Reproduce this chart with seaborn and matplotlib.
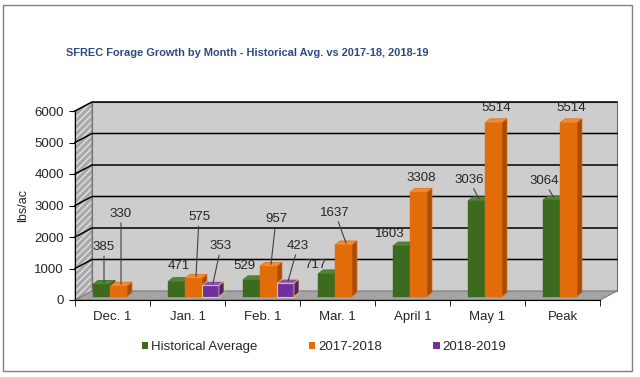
import numpy as np
import pandas as pd
import matplotlib.pyplot as plt
import matplotlib.transforms as mtransforms
from matplotlib.patches import Polygon, Rectangle, Patch
from matplotlib.lines import Line2D
import seaborn as sns

# chart data
months = ['Dec. 1', 'Jan. 1', 'Feb. 1', 'Mar. 1', 'April 1', 'May 1', 'Peak']
series = ['Historical Average', '2017-2018', '2018-2019']
hist_avg = [385, 471, 529, 717, 1603, 3036, 3064]
y2017_18 = [330, 575, 957, 1637, 3308, 5514, 5514]
y2018_19 = [None, 353, 423, None, None, None, None]
y_ticks = [0, 1000, 2000, 3000, 4000, 5000, 6000]

# label offsets (pixels from bar top) and whether a leader line is drawn
label_off = {
    'Historical Average': [(0, 35, 1), (0, 14, 0), (-10, 12, 0), (-14, 7, 0),
                           (-14, 10, 0), (-10, 19, 1), (-10, 17, 1)],
    '2017-2018': [(0, 70, 1), (3, 59, 1), (5, 45, 1), (-11, 30, 1),
                  (0, 12, 0), (0, 13, 0), (0, 13, 0)],
    '2018-2019': [None, (8, 37, 1), (10, 35, 1), None, None, None, None],
}

# colours: front, top, side, edge
cols = {
    'Historical Average': ('#3C6A1F', '#52853A', '#284914', '#3C6A1F'),
    '2017-2018': ('#E36C0A', '#F28A3A', '#A64C06', '#E36C0A'),
    '2018-2019': ('#7030A0', '#8A50B8', '#4E1F72', '#F0D050'),
}

rows = []
for s, vals in zip(series, [hist_avg, y2017_18, y2018_19]):
    for m, v in zip(months, vals):
        if v is not None:
            rows.append({'month': m, 'lbs': v, 'series': s})
df = pd.DataFrame(rows)

plt.rcParams['font.family'] = ['Liberation Sans', 'DejaVu Sans']
plt.rcParams['hatch.linewidth'] = 1.0
W, H = 640, 377
fig = plt.figure(figsize=(W / 100, H / 100), dpi=100)
ax = fig.add_axes([75 / W, 77 / H, 525 / W, 189 / H])

sns.barplot(data=df, x='month', y='lbs', hue='series', order=months,
            hue_order=series, palette=[cols[s][0] for s in series],
            width=0.68, gap=0, saturation=1, legend=False, ax=ax)
ax.set_xlim(-0.5, 6.5)
ax.set_ylim(0, 6000)
ax.patch.set_visible(False)

# 3d geometry in pixels
wdx, wdy = 17, 9      # wall depth
sdx, sdy = 6, 3.5     # bar shift from front plane
bdx, bdy = 5, 4       # bar depth
ident = mtransforms.IdentityTransform()
td = ax.transData

x_l, y_b = td.transform((-0.5, 0))
x_r, y_t = td.transform((6.5, 6000))

# back wall, left wall, floor
ax.add_patch(Polygon([(x_l + wdx, y_b + wdy), (x_r + wdx, y_b + wdy),
                      (x_r + wdx, y_t + wdy), (x_l + wdx, y_t + wdy)],
                     closed=True, transform=ident, facecolor='#CDCDCD',
                     edgecolor='#6A6A6A', lw=0.8, zorder=0.1, clip_on=False))
left_wall = [(x_l, y_b), (x_l + wdx, y_b + wdy), (x_l + wdx, y_t + wdy), (x_l, y_t)]
ax.add_patch(Polygon(left_wall, closed=True, transform=ident,
                     facecolor='#A9A9A9', edgecolor='#E2E2E2', hatch='/////',
                     lw=0, zorder=0.15, clip_on=False))
ax.add_patch(Polygon(left_wall, closed=True, transform=ident, fill=False,
                     edgecolor='#7A7A7A', lw=0.6, zorder=0.16, clip_on=False))
ax.add_patch(Polygon([(x_l, y_b), (x_r, y_b), (x_r + wdx, y_b + wdy),
                      (x_l + wdx, y_b + wdy)], closed=True, transform=ident,
                     facecolor='#A4A4A4', edgecolor='#7A7A7A', lw=0.8,
                     zorder=0.2, clip_on=False))

# gridlines on left and back walls
for t in y_ticks[1:]:
    _, yy = td.transform((-0.5, t))
    ax.add_line(Line2D([x_l, x_l + wdx, x_r + wdx], [yy, yy + wdy, yy + wdy],
                       transform=ident, color='black', lw=1.1, zorder=0.3,
                       clip_on=False))

# bars with top and side faces
shift = mtransforms.offset_copy(td, fig=fig, x=sdx, y=sdy, units='dots')
bars = []
for s, cont in zip(series, ax.containers):
    for bar in cont:
        if np.isnan(bar.get_height()):
            continue
        bars.append((bar.get_x(), s, bar))
bars.sort(key=lambda b: b[0])

for k, (_, s, bar) in enumerate(bars):
    front, top, side, edge = cols[s]
    z = 2 + 0.01 * k
    bar.set_transform(shift)
    bar.set_zorder(z)
    bar.set_edgecolor(edge)
    bar.set_linewidth(0.8 if edge != front else 0.3)
    x0, y0 = shift.transform((bar.get_x(), 0))
    x1, y1 = shift.transform((bar.get_x() + bar.get_width(), bar.get_height()))
    ax.add_patch(Polygon([(x0, y1), (x1, y1), (x1 + bdx, y1 + bdy), (x0 + bdx, y1 + bdy)],
                         closed=True, transform=ident, facecolor=top,
                         edgecolor=edge, lw=0.5, zorder=z, clip_on=False))
    ax.add_patch(Polygon([(x1, y0), (x1, y1), (x1 + bdx, y1 + bdy), (x1 + bdx, y0 + bdy)],
                         closed=True, transform=ident, facecolor=side,
                         edgecolor=edge, lw=0.5, zorder=z, clip_on=False))

    # data label
    ci = int(round(bar.get_x() + bar.get_width() / 2))
    ox, oy, line = label_off[s][ci]
    xc = (x0 + x1) / 2
    ap = dict(arrowstyle='-', color='#404040', lw=0.8, shrinkA=0, shrinkB=0) if line else None
    ax.annotate(f'{bar.get_height():.0f}', xy=(xc + bdx / 2, y1 + bdy / 2),
                xycoords='figure pixels', xytext=(ox, oy), textcoords='offset pixels',
                ha='center', va='center', fontsize=9.5, color='#262626',
                arrowprops=ap, zorder=5, annotation_clip=False)

# axes styling
for sp in ['top', 'right']:
    ax.spines[sp].set_visible(False)
ax.spines['left'].set_color('black')
ax.spines['bottom'].set_color('black')
ax.spines['left'].set_zorder(3)
ax.spines['bottom'].set_zorder(3)
ax.set_yticks(y_ticks)
ax.set_xticks(range(len(months)))
ax.set_xticklabels(months)
ax.set_xticks(np.arange(-0.5, len(months), 1), minor=True)
ax.tick_params(axis='x', which='major', length=0, pad=8, labelsize=9.5, labelcolor='#262626')
ax.tick_params(axis='x', which='minor', length=4, color='black')
ax.tick_params(axis='y', length=4, pad=4, labelsize=9.5, labelcolor='#262626', color='black')
ax.set_xlabel('')
ax.set_ylabel('lbs/ac', fontsize=9, color='#262626', labelpad=4)

fig.text(247 / W, 1 - 53 / H, 'SFREC Forage Growth by Month - Historical Avg. vs 2017-18, 2018-19',
         ha='center', va='center', fontsize=7.9, fontweight='bold', color='#2E4A7E')

handles = [Patch(facecolor=cols[s][0], edgecolor='none') for s in series]
fig.legend(handles, series, loc='center', bbox_to_anchor=(324 / W, 1 - 347 / H),
           ncol=3, frameon=False, fontsize=9.5, handlelength=0.5, handleheight=0.5,
           handletextpad=0.2, columnspacing=3.9, labelcolor='#262626')

fig.add_artist(Rectangle((3 / W, 6 / H), 629 / W, 366 / H, transform=fig.transFigure,
                         fill=False, edgecolor='#808080', lw=1))

fig.savefig('out.png', dpi=100)
